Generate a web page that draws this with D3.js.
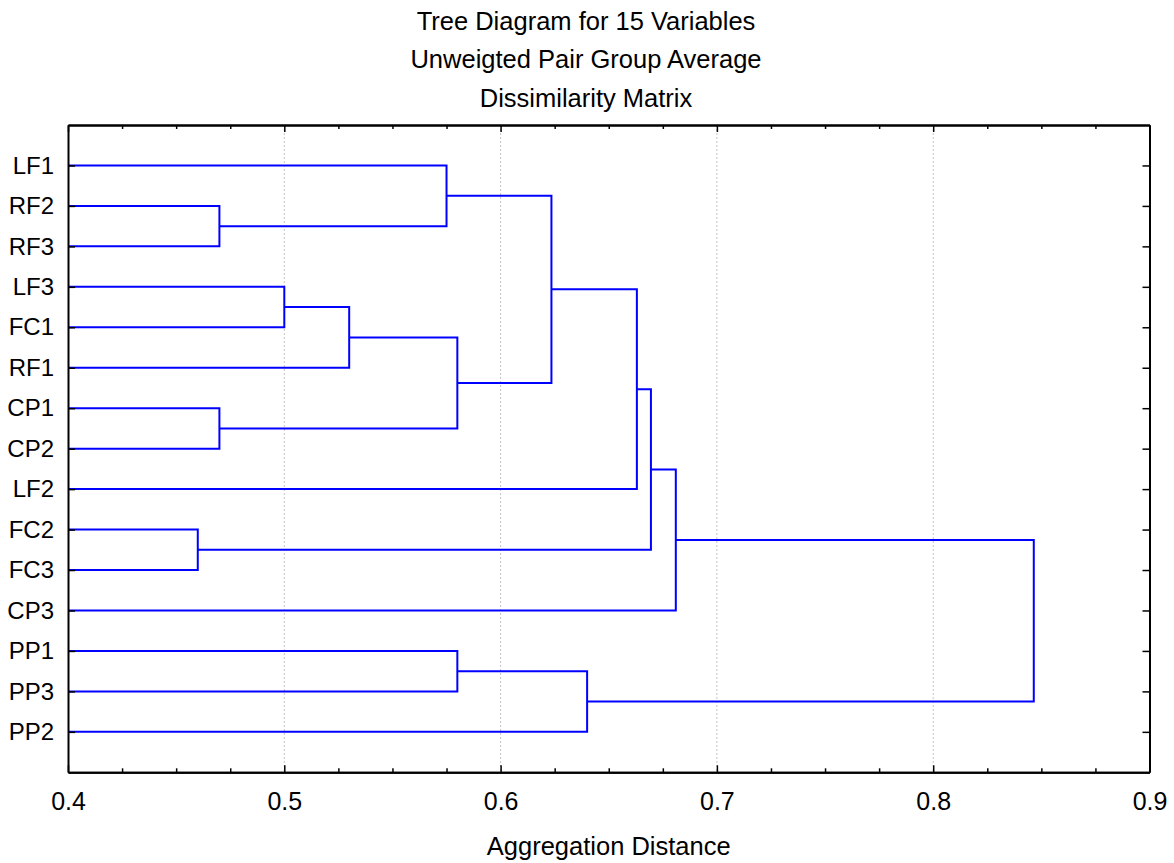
<!DOCTYPE html>
<html>
<head>
<meta charset="utf-8">
<script src="https://cdn.jsdelivr.net/npm/d3@7"></script>
<style>
  body { margin: 0; background: #fff; }
  text { font-family: "Liberation Sans", Arial, sans-serif; fill: #000; }
</style>
</head>
<body>
<svg id="chart" width="1174" height="863"></svg>
<script>
// leaves, top to bottom
const leaves = ["LF1", "RF2", "RF3", "LF3", "FC1", "RF1", "CP1", "CP2", "LF2", "FC2", "FC3", "CP3", "PP1", "PP3", "PP2"];

// joins in order: m0, m1, ... (a child is a leaf name or an earlier join "mN")
const joinA = ["RF2", "LF1", "LF3", "m2", "CP1", "m3", "m1", "m6", "FC2", "m7", "m9", "PP1", "m11", "m10"];
const joinB = ["RF3", "m0", "FC1", "RF1", "CP2", "m4", "m5", "LF2", "FC3", "m8", "CP3", "PP3", "PP2", "m12"];
const joinDist = [0.470, 0.575, 0.500, 0.530, 0.470, 0.580, 0.6235, 0.663, 0.460, 0.6695, 0.681, 0.580, 0.640, 0.8465];

const xMajor = [0.4, 0.5, 0.6, 0.7, 0.8, 0.9];
const xMinor = d3.range(0, 21).map(i => +(0.4 + i * 0.025).toFixed(3));
const titleLines = ["Tree Diagram for 15 Variables", "Unweigted Pair Group Average", "Dissimilarity Matrix"];

const svg = d3.select("#chart");
const plotLeft = 68, plotRight = 1149.5, plotTop = 125, plotBottom = 772.3;

const x = d3.scaleLinear().domain([0.4, 0.9]).range([plotLeft, plotRight]);
const y = d3.scaleLinear().domain([-1, 15]).range([plotTop, plotBottom]);

// titles
svg.selectAll("text.title")
    .data(titleLines)
    .join("text")
    .attr("class", "title")
    .attr("x", 586)
    .attr("y", (d, i) => 29.5 + i * 38.7)
    .attr("text-anchor", "middle")
    .style("font-size", "25.5px")
    .text(d => d);

// grid
svg.append("g")
    .selectAll("line")
    .data(xMajor.slice(1, -1))
    .join("line")
    .attr("x1", d => x(d))
    .attr("x2", d => x(d))
    .attr("y1", plotTop)
    .attr("y2", plotBottom)
    .attr("stroke", "#c4c4c4")
    .attr("stroke-width", 1)
    .attr("stroke-dasharray", "2,2");

// tree positions
const pos = {};
leaves.forEach((name, i) => { pos[name] = { y: i, d: 0.4 }; });
joinDist.forEach((dist, i) => {
    const a = pos[joinA[i]], b = pos[joinB[i]];
    pos["m" + i] = { y: (a.y + b.y) / 2, d: dist, a: a, b: b };
});

const tree = svg.append("g")
    .attr("fill", "none")
    .attr("stroke", "#0000ff")
    .attr("stroke-width", 2);

joinDist.forEach((dist, i) => {
    const node = pos["m" + i];
    const xm = x(dist);
    const path = d3.path();
    path.moveTo(x(node.a.d), y(node.a.y));
    path.lineTo(xm, y(node.a.y));
    path.lineTo(xm, y(node.b.y));
    path.lineTo(x(node.b.d), y(node.b.y));
    tree.append("path").attr("d", path.toString());
});

function styleAxis(g) {
    g.select(".domain").attr("stroke", "#000").attr("stroke-width", 2);
    g.selectAll(".tick line").attr("stroke", "#000").attr("stroke-width", 1.5);
    g.selectAll("text").style("font-size", "24px").attr("fill", "#000");
}

const minorOnly = xMinor.filter(v => !xMajor.some(m => Math.abs(m - v) < 1e-6));

// bottom
svg.append("g")
    .attr("transform", `translate(0,${plotBottom})`)
    .call(d3.axisBottom(x).tickValues(xMajor).tickSize(-7).tickSizeOuter(0).tickPadding(20).tickFormat(d3.format(".1f")))
    .call(styleAxis)
    .call(g => g.selectAll("text").style("font-size", "25px"));
svg.append("g")
    .attr("transform", `translate(0,${plotBottom})`)
    .call(d3.axisBottom(x).tickValues(minorOnly).tickSize(-4).tickSizeOuter(0).tickFormat(""))
    .call(styleAxis);

// top
svg.append("g")
    .attr("transform", `translate(0,${plotTop})`)
    .call(d3.axisTop(x).tickValues(xMajor).tickSize(-7).tickSizeOuter(0).tickFormat(""))
    .call(styleAxis);
svg.append("g")
    .attr("transform", `translate(0,${plotTop})`)
    .call(d3.axisTop(x).tickValues(minorOnly).tickSize(-4).tickSizeOuter(0).tickFormat(""))
    .call(styleAxis);

// left
svg.append("g")
    .attr("transform", `translate(${plotLeft},0)`)
    .call(d3.axisLeft(y).tickValues(d3.range(leaves.length)).tickSize(-7).tickSizeOuter(0).tickPadding(14).tickFormat(i => leaves[i]))
    .call(styleAxis);

// right
svg.append("g")
    .attr("transform", `translate(${plotRight},0)`)
    .call(d3.axisRight(y).tickValues(d3.range(leaves.length)).tickSize(-7).tickSizeOuter(0).tickFormat(""))
    .call(styleAxis);

// axis title
svg.append("text")
    .attr("x", (plotLeft + plotRight) / 2)
    .attr("y", 855)
    .attr("text-anchor", "middle")
    .style("font-size", "25.5px")
    .text("Aggregation Distance");
</script>
</body>
</html>
